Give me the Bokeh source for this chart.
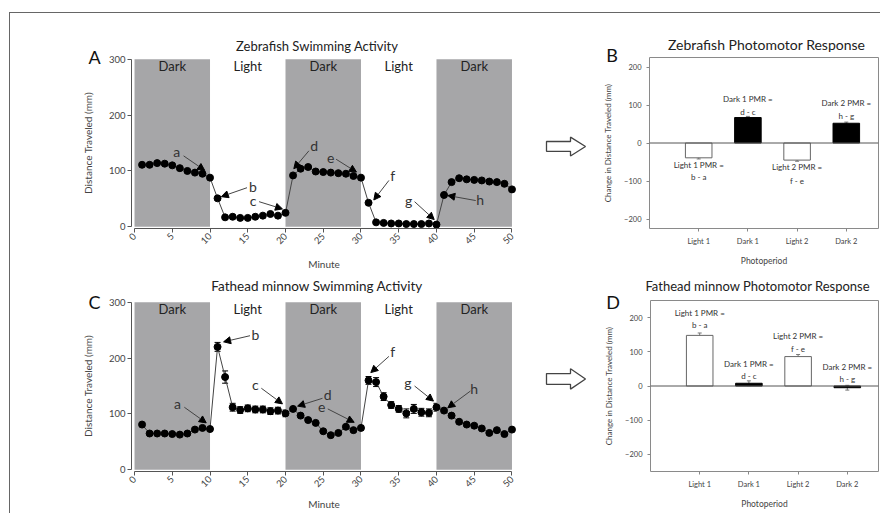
from math import pi
from bokeh.plotting import figure
from bokeh.models import (ColumnDataSource, Range1d, FixedTicker, Label, Arrow,
                          NormalHead, Whisker, TeeHead, Span, Div, Spacer)
from bokeh.layouts import row, column
from bokeh.embed import file_html
from bokeh.resources import INLINE
from bokeh.core.properties import value

FONT = "Lato"

# ---------------- data ----------------
minutes = list(range(1, 51))
zebra_dist = [111, 111, 114, 113, 110, 105, 100, 97, 95, 88,
              51, 17, 18, 16, 16, 18, 20, 23, 20, 25,
              92, 104, 107, 99, 98, 97, 96, 95, 91, 88,
              43, 8, 7, 6, 6, 5, 5, 5, 6, 4,
              57, 80, 87, 85, 84, 83, 81, 80, 77, 67]
fathead_dist = [81, 65, 65, 65, 64, 63, 65, 72, 75, 73,
                220, 166, 112, 107, 110, 108, 108, 105, 106, 101,
                109, 97, 89, 84, 69, 62, 66, 77, 71, 75,
                160, 157, 131, 116, 109, 101, 109, 103, 102, 112,
                106, 97, 86, 81, 79, 74, 66, 71, 64, 72]
fathead_err = [5, 2, 2, 2, 2, 3, 2, 3, 3, 3,
               8, 11, 7, 6, 6, 6, 6, 6, 6, 6,
               5, 6, 6, 5, 5, 3, 3, 4, 5, 4,
               7, 8, 7, 6, 6, 8, 8, 7, 7, 7,
               6, 7, 5, 6, 6, 6, 4, 3, 2, 2]

period_names = ["Dark", "Light", "Dark", "Light", "Dark"]
period_start = [0, 10, 20, 30, 40]
period_end = [10, 20, 30, 40, 50]
period_mid = [5, 15, 25, 35, 45]

letters = ["a", "b", "c", "d", "e", "f", "g", "h"]
zebra_lab_x = [5.6, 15.7, 15.7, 23.8, 26.0, 34.2, 36.3, 45.8]
zebra_lab_y = [134, 73, 48, 145, 124, 92, 48, 49]
zebra_arr_x0 = [6.5, 14.9, 16.5, 23.1, 26.7, 33.7, 37.1, 45.2]
zebra_arr_y0 = [127, 70, 45, 136, 121, 83, 45, 47]
zebra_arr_x1 = [9.3, 11.5, 19.6, 21.1, 29.4, 31.7, 39.7, 41.5]
zebra_arr_y1 = [101, 54, 32, 104, 98, 48, 13, 56]

fathead_lab_x = [5.7, 16.0, 16.0, 25.6, 24.8, 34.2, 36.2, 45.0]
fathead_lab_y = [119, 242, 152, 135, 113, 212, 156, 146]
fathead_arr_x0 = [6.6, 15.3, 16.8, 24.9, 25.6, 33.7, 37.1, 44.5]
fathead_arr_y0 = [112, 240, 146, 128, 109, 203, 150, 141]
fathead_arr_x1 = [9.5, 11.8, 19.6, 21.6, 29.1, 31.3, 39.6, 41.5]
fathead_arr_y1 = [84, 229, 118, 114, 85, 174, 123, 111]

photoperiods = ["Light 1", "Dark 1", "Light 2", "Dark 2"]
photo_pos = [1, 2, 3, 4]
zebra_pmr = [-39, 67, -45, 52]
zebra_pmr_err = [3, 3, 3, 3]
fathead_pmr = [148, 8, 86, -5]
fathead_pmr_err = [7, 7, 6, 7]
pmr_line1 = ["Light 1 PMR =", "Dark 1 PMR =", "Light 2 PMR =", "Dark 2 PMR ="]
pmr_line2 = ["b - a", "d - c", "f - e", "h - g"]
zebra_pmr_y1 = [-57, 115, -64, 105]
zebra_pmr_y2 = [-90, 82, -99, 72]
fathead_pmr_y1 = [214, 65, 145, 55]
fathead_pmr_y2 = [178, 29, 108, 21]
bar_fill = ["white", "black", "white", "black"]
bar_line = ["#666666", "black", "#666666", "black"]

# decorative block arrows (canvas pixels of the small arrow panels)
arrow_x = [16, 40, 40, 55, 40, 40, 16]
arrow1_y = [128.7, 128.7, 122, 136.3, 151, 143.7, 143.7]
arrow2_y = [101.7, 101.7, 95, 109.3, 123.3, 116.7, 116.7]

GRAY_BAND = "#a6a6a8"
AX = "#555555"


def add_texts(p, title, tx, ty, tsize, letter, lx, ly, letter_side):
    p.add_layout(Label(x=tx, y=ty, text=title, text_font=FONT,
                       text_font_size=tsize, text_align="center",
                       text_baseline="middle", text_color="#222222"), "above")
    p.add_layout(Label(x=lx, y=ly, text=letter, text_font=FONT,
                       text_font_size="18px", text_align="center",
                       text_baseline="middle", text_color="#111111"), letter_side)


def activity_panel(title, dist, err, lab_x, lab_y, ax0, ay0, ax1, ay1,
                   letter, height, bt, bb, title_y, letter_y, title_size, xlab_standoff):
    p = figure(width=520, height=height, x_range=Range1d(-0.4, 50.6),
               y_range=Range1d(-3, 303), output_backend="svg", title=None,
               toolbar_location=None, min_border_left=121, min_border_right=14,
               min_border_top=bt, min_border_bottom=bb)
    p.outline_line_color = None
    p.grid.visible = False
    p.background_fill_color = "white"
    p.border_fill_color = "white"

    p.quad(left=period_start[0::2], right=period_end[0::2], bottom=0, top=300,
           fill_color=GRAY_BAND, line_color=None)
    p.text(x=period_mid, y=[288] * 5, text=period_names, text_font=value(FONT),
           text_font_size="13px", text_align="center", text_baseline="middle",
           text_color="#222222")

    p.line(minutes, dist, line_color="#444444", line_width=1)
    if err is not None:
        src = ColumnDataSource(dict(base=minutes,
                                    upper=[d + e for d, e in zip(dist, err)],
                                    lower=[d - e for d, e in zip(dist, err)]))
        p.add_layout(Whisker(source=src, base="base", upper="upper", lower="lower",
                             line_color="black", line_width=1,
                             upper_head=TeeHead(size=6, line_color="black"),
                             lower_head=TeeHead(size=6, line_color="black")))
    p.scatter(minutes, dist, size=7, marker="circle", fill_color="black",
              line_color="black")

    asrc = ColumnDataSource(dict(x0=ax0, y0=ay0, x1=ax1, y1=ay1))
    p.add_layout(Arrow(source=asrc, x_start="x0", y_start="y0", x_end="x1", y_end="y1",
                       line_color="#444444", line_width=1,
                       end=NormalHead(size=7, fill_color="black", line_color="black")))
    p.text(x=lab_x, y=lab_y, text=letters, text_font=value(FONT), text_font_size="14px",
           text_align="center", text_baseline="middle", text_color="#333333")

    add_texts(p, title, 24.2, title_y, title_size, letter, -5.3, letter_y, "left")

    p.xaxis.ticker = FixedTicker(ticks=[0, 5, 10, 15, 20, 25, 30, 35, 40, 45, 50])
    p.yaxis.ticker = FixedTicker(ticks=[0, 100, 200, 300])
    p.xaxis.bounds = (0, 50)
    p.yaxis.bounds = (0, 300)
    p.xaxis.major_label_orientation = pi / 4
    p.xaxis.axis_label = "Minute"
    p.yaxis.axis_label = "Distance Traveled (mm)"
    for ax in (p.xaxis, p.yaxis):
        ax.axis_line_color = AX
        ax.major_tick_line_color = AX
        ax.major_tick_out = 4
        ax.major_tick_in = 0
        ax.minor_tick_out = 0
        ax.minor_tick_in = 0
        ax.major_label_text_font = FONT
        ax.major_label_text_font_size = "9.5px"
        ax.major_label_text_color = "#444444"
        ax.major_label_standoff = 2
        ax.axis_label_text_font = FONT
        ax.axis_label_text_font_size = "10px"
        ax.axis_label_text_font_style = "normal"
        ax.axis_label_text_color = "#444444"
    p.yaxis.axis_label_standoff = 12
    p.xaxis.axis_label_standoff = xlab_standoff
    return p


def pmr_panel(title, vals, errs, y1, y2, ymax, letter, width, height, bl, bt, bb,
              title_x, title_y, title_size, letter_y, letter_side):
    frame_w = width - bl - 2
    p = figure(width=width, height=height, x_range=Range1d(0, frame_w / 49.2),
               y_range=Range1d(-ymax, ymax), output_backend="svg", title=None,
               toolbar_location=None, min_border_left=bl, min_border_right=2,
               min_border_top=bt, min_border_bottom=bb)
    p.grid.visible = False
    p.outline_line_color = "#8a8a8a"
    p.outline_line_width = 1
    p.background_fill_color = "white"
    p.border_fill_color = "white"

    p.add_layout(Span(location=0, dimension="width", line_color="#555555", line_width=1))
    src = ColumnDataSource(dict(x=photo_pos, top=vals, fill=bar_fill, line=bar_line))
    p.vbar(x="x", top="top", bottom=0, width=0.54, fill_color="fill",
           line_color="line", line_width=1, source=src)
    wsrc = ColumnDataSource(dict(base=photo_pos,
                                 upper=[v + e for v, e in zip(vals, errs)],
                                 lower=[v - e for v, e in zip(vals, errs)]))
    p.add_layout(Whisker(source=wsrc, base="base", upper="upper", lower="lower",
                         line_color="#777777", line_width=1,
                         upper_head=TeeHead(size=4, line_color="#777777"),
                         lower_head=TeeHead(size=4, line_color="#777777")))
    p.text(x=photo_pos, y=y1, text=pmr_line1, text_font=value(FONT),
           text_font_size="8px", text_align="center", text_baseline="middle",
           text_color="#333333")
    p.text(x=photo_pos, y=y2, text=pmr_line2, text_font=value(FONT),
           text_font_size="8px", text_align="center", text_baseline="middle",
           text_color="#333333")

    add_texts(p, title, title_x, title_y, title_size, letter, -0.76, letter_y,
              letter_side)

    p.xaxis.ticker = FixedTicker(ticks=photo_pos)
    p.xaxis.major_label_overrides = {k: v for k, v in zip(photo_pos, photoperiods)}
    p.yaxis.ticker = FixedTicker(ticks=[-200, -100, 0, 100, 200])
    p.xaxis.axis_label = "Photoperiod"
    p.yaxis.axis_label = "Change in Distance Traveled (mm)"
    for ax in (p.xaxis, p.yaxis):
        ax.axis_line_color = None
        ax.major_tick_line_color = "#888888"
        ax.major_tick_out = 3
        ax.major_tick_in = 0
        ax.minor_tick_out = 0
        ax.minor_tick_in = 0
        ax.major_label_text_font = FONT
        ax.major_label_text_font_size = "7.5px"
        ax.major_label_text_color = "#444444"
        ax.major_label_standoff = 5
        ax.axis_label_text_font = FONT
        ax.axis_label_text_font_style = "normal"
        ax.axis_label_text_color = "#444444"
    p.xaxis.axis_label_text_font_size = "8.5px"
    p.yaxis.axis_label_text_font_size = "8px"
    p.yaxis.axis_label_standoff = 8
    p.xaxis.axis_label_standoff = 7
    return p


def arrow_panel(width, height, ys):
    p = figure(width=width, height=height, x_range=Range1d(0, width),
               y_range=Range1d(height, 0), output_backend="svg", title=None,
               toolbar_location=None, min_border=0,
               x_axis_location=None, y_axis_location=None)
    p.grid.visible = False
    p.outline_line_color = None
    p.patch(arrow_x, ys, fill_color="white", line_color="#444444", line_width=1.3)
    return p


H1, H2 = 262, 238
pA = activity_panel("Zebrafish Swimming Activity", zebra_dist, None,
                    zebra_lab_x, zebra_lab_y, zebra_arr_x0, zebra_arr_y0,
                    zebra_arr_x1, zebra_arr_y1, "A", H1, 42, 47, 323.5, 303.5, "13px", 8)
pC = activity_panel("Fathead minnow Swimming Activity", fathead_dist, fathead_err,
                    fathead_lab_x, fathead_lab_y, fathead_arr_x0, fathead_arr_y0,
                    fathead_arr_x1, fathead_arr_y1, "C", H2, 25, 40, 329.5, 300,
                    "13.5px", 5)
pB = pmr_panel("Zebrafish Photomotor Response", zebra_pmr, zebra_pmr_err,
               zebra_pmr_y1, zebra_pmr_y2, 225, "B", 280, H1, 49, 44, 47, 2.38, 259,
               "14px", 232, "above")
pD = pmr_panel("Fathead minnow Photomotor Response", fathead_pmr, fathead_pmr_err,
               fathead_pmr_y1, fathead_pmr_y2, 250, "D", 294, H2, 64, 25, 40, 2.18, 293,
               "13px", 247, "left")
ar1 = arrow_panel(70, H1, arrow1_y)
ar2 = arrow_panel(56, H2, arrow2_y)

top_line = Div(text="", width=871, height=1, margin=0,
               styles={"background-color": "#666666"})
left_line = Div(text="", width=1, height=H1 + H2, margin=0,
                styles={"background-color": "#666666"})

layout = column(Spacer(width=880, height=12),
                row(Spacer(width=9, height=1), top_line),
                row(Spacer(width=9, height=H1 + H2), left_line,
                    column(row(pA, ar1, pB), row(pC, ar2, pD))))

open("out.html", "w").write(file_html(layout, INLINE))
